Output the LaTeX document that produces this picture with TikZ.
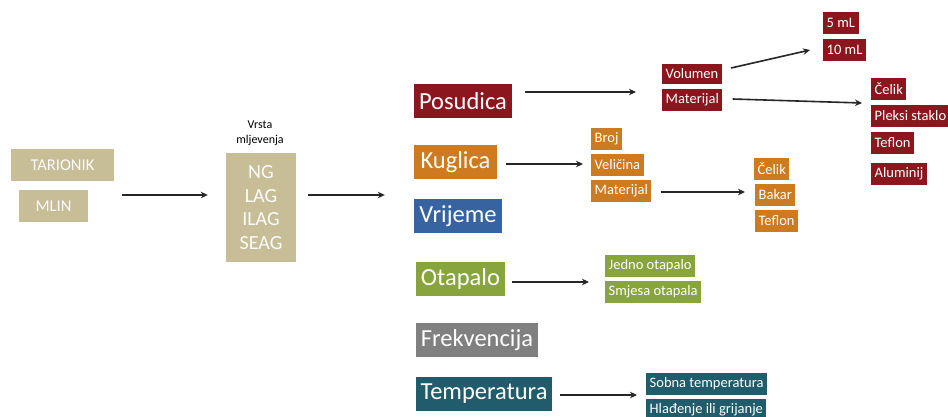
\documentclass[tikz,border=0pt]{standalone}
\usepackage{fontspec}
\setmainfont{Carlito}
\usetikzlibrary{calc,arrows.meta}
\definecolor{ctan}{RGB}{199,189,150}
\definecolor{cred}{RGB}{140,22,30}
\definecolor{corange}{RGB}{206,122,30}
\definecolor{cblue}{RGB}{55,100,160}
\definecolor{cgreen}{RGB}{135,165,60}
\definecolor{cgray}{RGB}{128,128,128}
\definecolor{cteal}{RGB}{32,92,108}
\begin{document}
\begin{tikzpicture}[x=1pt,y=-1pt,
  big/.style={inner sep=0pt, text=white, minimum height=34pt, font=\fontsize{24.5}{26}\selectfont},
  small/.style={anchor=west, inner xsep=3.5pt, inner ysep=0pt, minimum height=22pt, text=white, font=\fontsize{14.5}{16}\selectfont},
  tanbox/.style={fill=ctan, text=white!96!ctan, inner sep=0pt},
  arr/.style={-{Stealth[length=7pt,width=6.5pt]}, line width=1.6pt, black!85}]
\useasboundingbox (0,0) rectangle (948,416);
\fill[white] (0,0) rectangle (948,416);

% left part
\node[tanbox, minimum width=103pt, minimum height=32pt, font=\fontsize{16.5}{18}\selectfont] (tar) at (62.5,165) {TARIONIK};
\node[tanbox, minimum width=69pt, minimum height=32pt, font=\fontsize{16.5}{18}\selectfont] (mlin) at (53.5,206) {MLIN};
\node[tanbox, minimum width=70pt, minimum height=109pt, align=center, font=\fontsize{20}{23.5}\selectfont] (ng) at (261,207.5) {NG\\LAG\\ILAG\\SEAG};
\node[align=center, inner sep=0pt, font=\fontsize{12}{15}\selectfont] (lab) at (260,133) {Vrsta\\mljevenja};

% main categories
\node[big, fill=cred, minimum width=98pt] (pos) at (463,101) {Posudica};
\node[big, fill=corange, minimum width=83pt] (kug) at (455.5,162) {Kuglica};
\node[big, fill=cblue, minimum width=88pt] (vri) at (458,216) {Vrijeme};
\node[big, fill=cgreen, minimum width=89pt] (ota) at (460.5,279) {Otapalo};
\node[big, fill=cgray, minimum width=122pt] (fre) at (477,340) {Frekvencija};
\node[big, fill=cteal, minimum width=136pt] (tem) at (484,394) {Temperatura};

% posudica sub
\node[small, fill=cred, minimum height=20pt] (vol) at (662,74) {Volumen};
\node[small, fill=cred] (mat1) at (662,100) {Materijal};
\node[small, fill=cred] (ml5) at (823,23) {5 mL};
\node[small, fill=cred] (ml10) at (823,50) {10 mL};
\node[small, fill=cred] (cel1) at (871,89) {Čelik};
\node[small, fill=cred] (ple) at (871,116) {Pleksi staklo};
\node[small, fill=cred] (tef1) at (871,143) {Teflon};
\node[small, fill=cred] (alu) at (871,174) {Aluminij};

% kuglica sub
\node[small, fill=corange] (broj) at (591,139) {Broj};
\node[small, fill=corange] (vel) at (591,165) {Veličina};
\node[small, fill=corange] (mat2) at (591,191) {Materijal};
\node[small, fill=corange] (cel2) at (754,169) {Čelik};
\node[small, fill=corange] (bak) at (755,195) {Bakar};
\node[small, fill=corange] (tef2) at (755,221) {Teflon};

% otapalo sub
\node[small, fill=cgreen] (jed) at (605,266) {Jedno otapalo};
\node[small, fill=cgreen] (smj) at (605,292) {Smjesa otapala};

% temperatura sub
\node[small, fill=cteal] (sob) at (646,384) {Sobna temperatura};
\node[small, fill=cteal] (hla) at (646,410) {Hlađenje ili grijanje};

% arrows
\draw[arr] ($(tar.east)+(8,30)$) -- ($(ng.west)+(-18,-12.5)$);
\draw[arr] ($(ng.east)+(12,-12.5)$) -- ($(vri.west)+(-29,-21)$);
\draw[arr] ($(pos.east)+(13,-9)$) -- ($(vol.west)+(-26,18)$);
\draw[arr] ($(vol.east)+(9,-6)$) -- ($(ml10.west)+(-13,0)$);
\draw[arr] ($(mat1.east)+(10,-1)$) -- ($(cel1.west)+(-9,14)$);
\draw[arr] ($(kug.east)+(9,2)$) -- ($(vel.west)+(-8,-1)$);
\draw[arr] ($(mat2.east)+(9,1)$) -- ($(cel2.west)+(-9,23)$);
\draw[arr] ($(ota.east)+(7,3)$) -- ($(jed.west)+(-16,16)$);
\draw[arr] ($(tem.east)+(8,1)$) -- ($(sob.west)+(-9,11)$);
\end{tikzpicture}
\end{document}
